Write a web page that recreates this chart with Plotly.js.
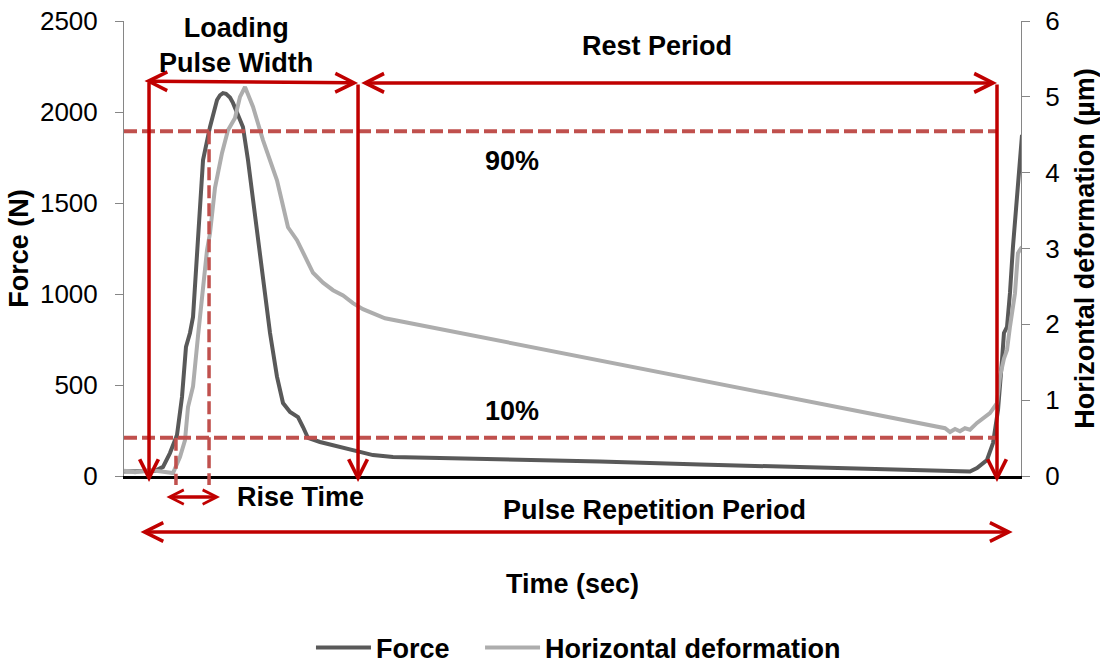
<!DOCTYPE html>
<html>
<head>
<meta charset="utf-8">
<script src="https://cdn.plot.ly/plotly-3.0.1.min.js"></script>
<style>
  html, body { margin: 0; padding: 0; background: #ffffff; }
  #chart { width: 1100px; height: 664px; }
</style>
</head>
<body>
<div id="chart"></div>
<script>
// Measured force pulse (N) against time (s)
const forceTime = [0, 0.0189, 0.0366, 0.0460, 0.0542, 0.0625, 0.0684, 0.0731, 0.0778, 0.0814,
  0.0861, 0.0932, 0.1014, 0.1097, 0.1132, 0.1167, 0.1203, 0.1250, 0.1285, 0.1344,
  0.1403, 0.1462, 0.1521, 0.1580, 0.1639, 0.1722, 0.1804, 0.1875, 0.1958, 0.2052,
  0.2111, 0.2170, 0.2311, 0.2465, 0.2700, 0.2936, 0.3172, 0.3844, 0.4434, 0.5613,
  0.6792, 0.7972, 0.9151, 0.9623, 0.9858, 0.9976, 1.0059, 1.0177, 1.0248, 1.0307,
  1.0354, 1.0377, 1.0413, 1.0448, 1.0483, 1.0531, 1.0566, 1.0590];
const forceN = [25, 25, 28, 50, 126, 225, 434, 709, 786, 874,
  1242, 1736, 1918, 2066, 2092, 2104, 2100, 2080, 2050, 1990,
  1918, 1736, 1516, 1280, 1070, 786, 546, 401, 352, 324,
  269, 209, 187, 170, 143, 115, 104, 98, 93, 80,
  63, 48, 33, 25, 22, 25, 44, 88, 181, 363,
  637, 786, 819, 1006, 1258, 1516, 1736, 1874];

// Measured horizontal deformation (µm) against time (s)
const deformTime = [0, 0.0130, 0.0307, 0.0425, 0.0578, 0.0660, 0.0719, 0.0755, 0.0814, 0.0873,
  0.0932, 0.0979, 0.1014, 0.1073, 0.1156, 0.1226, 0.1309, 0.1368, 0.1427, 0.1521,
  0.1639, 0.1722, 0.1804, 0.1863, 0.1934, 0.2040, 0.2111, 0.2229, 0.2347, 0.2465,
  0.2583, 0.2700, 0.2818, 0.2936, 0.3078, 0.9682, 0.9741, 0.9800, 0.9858, 0.9917,
  0.9976, 1.0059, 1.0212, 1.0295, 1.0330, 1.0377, 1.0413, 1.0448, 1.0507, 1.0542, 1.0590];
const deformUm = [0.07, 0.05, 0.08, 0.06, 0.04, 0.25, 0.47, 0.91, 1.18, 1.85,
  2.55, 2.98, 3.20, 3.80, 4.26, 4.56, 4.72, 5.00, 5.13, 4.87,
  4.43, 4.17, 3.90, 3.62, 3.28, 3.11, 2.94, 2.68, 2.55, 2.45,
  2.38, 2.28, 2.20, 2.15, 2.08, 0.63, 0.58, 0.62, 0.59, 0.63,
  0.61, 0.70, 0.83, 0.96, 1.31, 1.55, 1.66, 1.97, 2.41, 2.94, 3.02];

// Axis settings
const timeRange = [0, 1.0578];
const forceTicks = [0, 500, 1000, 1500, 2000, 2500];
const deformTicks = [0, 1, 2, 3, 4, 5, 6];

// Pulse markers (s) and the rise-time thresholds (fraction of peak force)
const pulseStart = 0.0295;
const pulseEnd = 0.276;
const nextPulse = 1.0295;
const riseLevels = [0.1, 0.9];
const riseArrow = [0.0483, 0.1132];
const periodArrow = [0.0177, 1.048];

const red = '#c00000';
const dashRed = '#c0504d';
const FONT = 'Liberation Sans, Arial, sans-serif';

const peak = Math.max.apply(null, forceN);
const lowLevel = riseLevels[0] * peak;
const highLevel = riseLevels[1] * peak;

// first time the rising force crosses a given level
function firstCrossing(level) {
  for (let i = 0; i < forceN.length - 1; i++) {
    if (forceN[i] < level && forceN[i + 1] >= level) {
      const f = (level - forceN[i]) / (forceN[i + 1] - forceN[i]);
      return forceTime[i] + f * (forceTime[i + 1] - forceTime[i]);
    }
  }
  return null;
}
const tLow = firstCrossing(lowLevel);
const tHigh = firstCrossing(highLevel);
const forceMax = forceTicks[forceTicks.length - 1];

const traces = [
  {
    x: forceTime, y: forceN, name: 'Force', type: 'scatter', mode: 'lines',
    line: { color: '#595959', width: 4 }, yaxis: 'y', legend: 'legend'
  },
  {
    x: deformTime, y: deformUm, name: 'Horizontal deformation', type: 'scatter', mode: 'lines',
    line: { color: '#adadad', width: 4 }, yaxis: 'y2', legend: 'legend2'
  }
];

function arrowStyle(size) {
  return {
    text: '', showarrow: true, arrowhead: 5, arrowsize: size, arrowwidth: 3.5, arrowcolor: red
  };
}
function twoHeaded(size) {
  return { arrowside: 'end+start', startarrowhead: 5, startarrowsize: size };
}

function vArrow(t, top) {
  return Object.assign({ x: t, y: -33, ax: t, ay: top, xref: 'x', yref: 'y', axref: 'x', ayref: 'y' }, arrowStyle(1.05));
}
function hArrowData(t0, f0, t1, f1) {
  return Object.assign({ x: t1, y: f1, ax: t0, ay: f0, xref: 'x', yref: 'y', axref: 'x', ayref: 'y' },
    arrowStyle(1.05), twoHeaded(1.05));
}
function hArrowBelow(t0, t1, yPaper, size) {
  return Object.assign({ x: t1, y: yPaper, ax: t0, ay: 0, xref: 'x', yref: 'paper', axref: 'x', ayref: 'pixel' },
    arrowStyle(size), twoHeaded(size));
}
function label(text, x, y) {
  return {
    text: text, x: x, y: y, xref: 'paper', yref: 'paper', showarrow: false,
    xanchor: 'center', yanchor: 'middle',
    font: { family: FONT, size: 27, color: '#000000', weight: 'bold' }
  };
}

const annotations = [
  vArrow(pulseStart, 2170),
  vArrow(pulseEnd, 2160),
  vArrow(nextPulse, 2160),
  hArrowData(pulseStart - 0.0071, 2170, pulseEnd, 2160),
  hArrowData(pulseEnd + 0.002, 2160, nextPulse, 2160),
  hArrowBelow(riseArrow[0], riseArrow[1], -0.0462, 0.8),
  hArrowBelow(periodArrow[0], periodArrow[1], -0.123, 1.05),
  label('Loading<br>Pulse Width', 0.1249, 0.947),
  label('Rest Period', 0.594, 0.946),
  label('90%', 0.433, 0.692),
  label('10%', 0.433, 0.143),
  label('Rise Time', 0.197, -0.047),
  label('Pulse Repetition Period', 0.591, -0.0747)
];

const dashLine = { color: dashRed, width: 4, dash: '13px,5px' };
const shapes = [
  { type: 'line', xref: 'x', yref: 'y', x0: 0, x1: nextPulse, y0: highLevel, y1: highLevel, line: dashLine, layer: 'above' },
  { type: 'line', xref: 'x', yref: 'y', x0: 0, x1: nextPulse, y0: lowLevel, y1: lowLevel, line: dashLine, layer: 'above' },
  { type: 'line', xref: 'x', yref: 'paper', x0: tLow, x1: tLow, y0: lowLevel / forceMax, y1: -0.02,
    line: { color: dashRed, width: 3.5, dash: '13px,5px' }, layer: 'above' },
  { type: 'line', xref: 'x', yref: 'paper', x0: tHigh, x1: tHigh, y0: highLevel / forceMax, y1: -0.02,
    line: { color: dashRed, width: 3.5, dash: '13px,5px' }, layer: 'above' }
];

const tickFont = { family: FONT, size: 26, color: '#000000' };
const titleFont = { family: FONT, size: 27, color: '#000000', weight: 'bold' };

function legendAt(x) {
  return {
    orientation: 'h', xref: 'container', x: x, xanchor: 'left',
    yref: 'container', y: 0.024, yanchor: 'middle',
    font: { family: FONT, size: 27, color: '#000000', weight: 'bold' },
    itemwidth: 55, bgcolor: 'rgba(0,0,0,0)', borderwidth: 0
  };
}

const layout = {
  width: 1100, height: 664,
  margin: { l: 124, r: 79, t: 21, b: 188 },
  paper_bgcolor: '#ffffff', plot_bgcolor: '#ffffff',
  showlegend: true,
  legend: legendAt(0.2827),
  legend2: legendAt(0.4364),
  xaxis: {
    range: timeRange, showticklabels: false, ticks: '', showgrid: false, zeroline: false,
    showline: true, linecolor: '#000000', linewidth: 2.5, automargin: false,
    title: { text: 'Time (sec)', font: titleFont, standoff: 97 }
  },
  yaxis: {
    range: [0, forceMax], tickvals: forceTicks, showgrid: false, zeroline: false,
    showline: true, linecolor: '#868686', linewidth: 1, automargin: false,
    ticks: 'outside', ticklen: 8, tickcolor: '#868686', tickwidth: 1,
    ticklabelstandoff: 12, tickfont: tickFont,
    title: { text: 'Force (N)', font: titleFont, standoff: 3 }
  },
  yaxis2: {
    range: [0, 6], tickvals: deformTicks, overlaying: 'y', side: 'right',
    showgrid: false, zeroline: false, automargin: false,
    showline: true, linecolor: '#868686', linewidth: 1,
    ticks: 'outside', ticklen: 8, tickcolor: '#868686', tickwidth: 1,
    ticklabelstandoff: 10, tickfont: tickFont,
    title: { text: 'Horizontal deformation (µm)', font: titleFont, standoff: 17 }
  },
  shapes: shapes,
  annotations: annotations
};

Plotly.newPlot('chart', traces, layout, { staticPlot: true, displayModeBar: false });
</script>
</body>
</html>
